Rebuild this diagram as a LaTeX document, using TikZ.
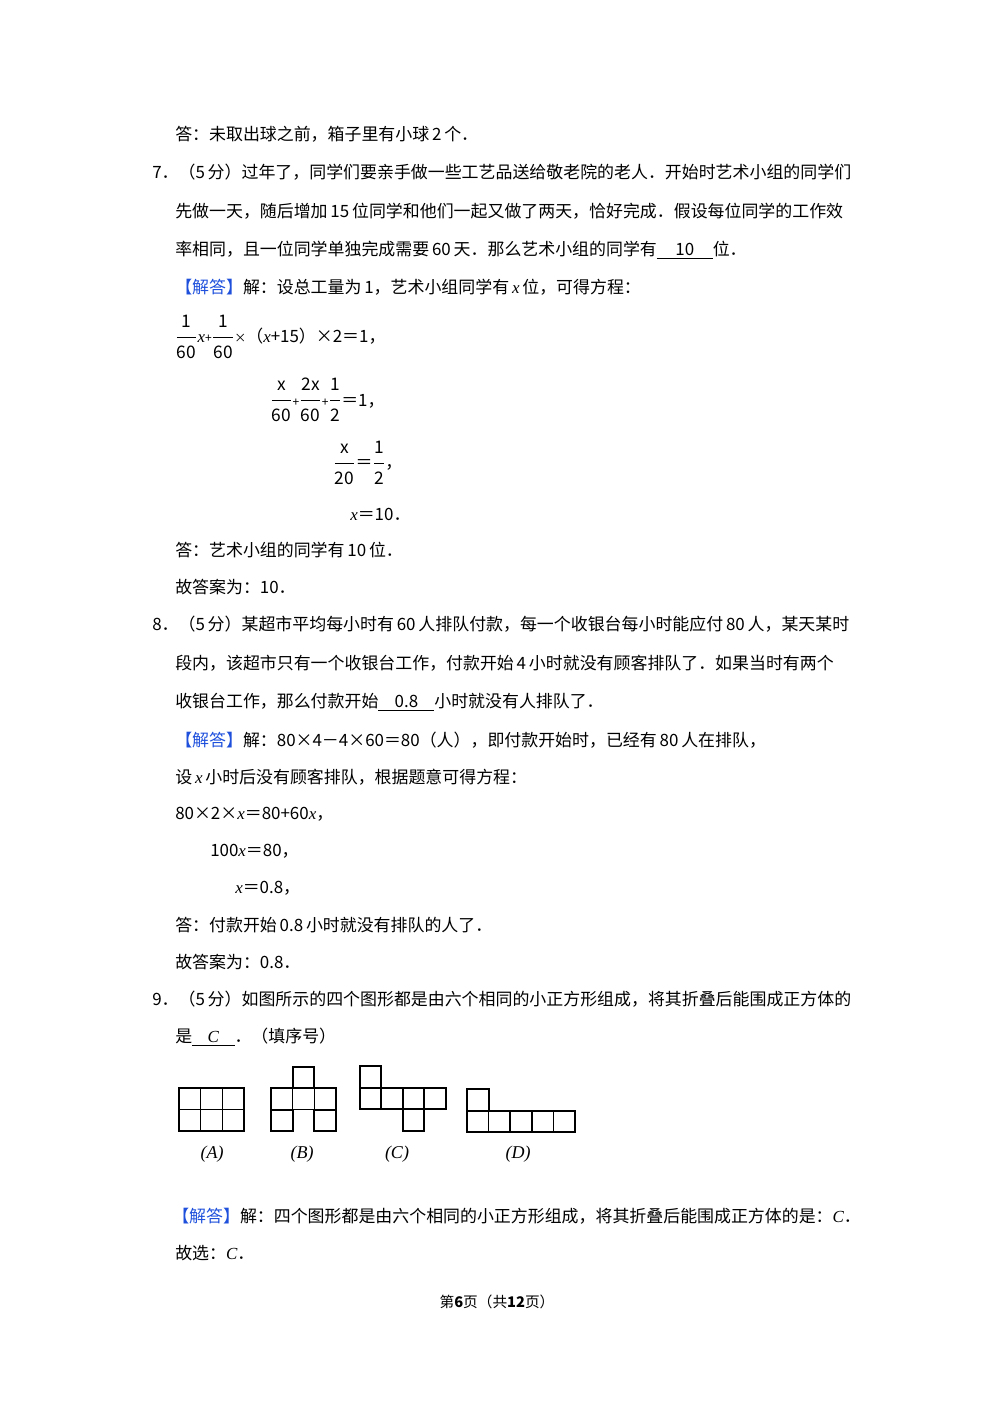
\documentclass[tikz,border=0pt]{standalone}
\usepackage{amsmath}
\usepackage{fontspec}
\setmainfont{Noto Sans CJK SC}
\newfontfamily\ser{Liberation Serif}
\newcommand\vx{{\ser\itshape x}}
\newcommand\ans[2]{\underline{\makebox[#1]{#2}}}
\newcommand\fr[2]{{\fontsize{17pt}{20pt}\selectfont$\dfrac{\text{\fontsize{13pt}{15pt}\selectfont #1}}{\text{\fontsize{13pt}{15pt}\selectfont #2}}$}}
\definecolor{ansblue}{RGB}{30,80,220}
\newcommand\jd{{\color{ansblue}【解答】}}
\begin{document}
\begin{tikzpicture}[x=0.75pt,y=-0.75pt,
  tl/.style={anchor=west,inner sep=0pt,font=\fontsize{12.7pt}{16pt}\selectfont},
  sq/.style={draw,line width=1.1pt}]
\useasboundingbox (0,0) rectangle (1000,1415);
\node[tl] (l1) at (175,134) {答：未取出球之前，箱子里有小球\,2\,个．};
\node[tl] (l2) at (152,172) {7．（5\,分）过年了，同学们要亲手做一些工艺品送给敬老院的老人．开始时艺术小组的同学们};
\node[tl] (l3) at (175,211) {先做一天，随后增加\,15\,位同学和他们一起又做了两天，恰好完成．假设每位同学的工作效};
\node[tl] (l4) at (175,250) {率相同，且一位同学单独完成需要\,60\,天．那么艺术小组的同学有\ans{3.3em}{10}位．};
\node[tl] (l5) at (175,287) {\jd 解：设总工量为\,1，艺术小组同学有\,\vx\,位，可得方程：};
\node[tl] (e1) at (175,337) {\fr{1}{60}\vx{\small+}\fr{1}{60}{\small×}（\vx+15）×2＝1，};
\node[tl] (e2) at (270,400) {\fr{x}{60}{\small+}\fr{2x}{60}{\small+}\fr{1}{2}＝1，};
\node[tl] (e3) at (333,463) {\fr{x}{20}＝\fr{1}{2}，};
\node[tl] (e4) at (350,514) {\vx＝10．};
\node[tl] (l6) at (175,550) {答：艺术小组的同学有\,10\,位．};
\node[tl] (l7) at (175,587) {故答案为：10．};
\node[tl] (l8) at (152,624) {8．（5\,分）某超市平均每小时有\,60\,人排队付款，每一个收银台每小时能应付\,80\,人，某天某时};
\node[tl] (l9) at (175,663) {段内，该超市只有一个收银台工作，付款开始\,4\,小时就没有顾客排队了．如果当时有两个};
\node[tl] (l10) at (175,702) {收银台工作，那么付款开始\ans{3.3em}{0.8}小时就没有人排队了．};
\node[tl] (l11) at (175,740) {\jd 解：80×4－4×60＝80（人），即付款开始时，已经有\,80\,人在排队，};
\node[tl] (l12) at (175,777) {设\,\vx\,小时后没有顾客排队，根据题意可得方程：};
\node[tl] (l13) at (175,814) {80×2×\vx＝80+60\vx，};
\node[tl] (l14) at (210,851) {100\vx＝80，};
\node[tl] (l15) at (235,888) {\vx＝0.8，};
\node[tl] (l16) at (175,925) {答：付款开始\,0.8\,小时就没有排队的人了．};
\node[tl] (l17) at (175,962) {故答案为：0.8．};
\node[tl] (l18) at (152,999) {9．（5\,分）如图所示的四个图形都是由六个相同的小正方形组成，将其折叠后能围成正方体的};
\node[tl] (l19) at (175,1037) {是\ans{2.5em}{\ser\itshape C}．（填序号）};
% A
\foreach \i in {0,1,2} \foreach \j in {0,1}
  \draw[sq] (179+21.67*\i,1088+21.5*\j) rectangle ++(21.67,21.5);
% B
\draw[sq] (293,1067) rectangle (314,1088);
\foreach \i in {0,1,2} \draw[sq] (271+21.67*\i,1088) rectangle ++(21.67,21.5);
\draw[sq] (271,1110) rectangle (293,1131);
\draw[sq] (314,1110) rectangle (336,1131);
% C
\draw[sq] (360,1066) rectangle (381,1088);
\draw[sq] (360,1088) rectangle (381,1109);
\draw[sq] (381,1088) rectangle (403,1109);
\draw[sq] (403,1088) rectangle (424,1109);
\draw[sq] (424,1088) rectangle (446,1109);
\draw[sq] (403,1109) rectangle (424,1131);
% D
\draw[sq] (467,1089) rectangle (489,1111);
\foreach \i in {0,...,4} \draw[sq] (467+21.6*\i,1111) rectangle ++(21.6,21);
\node[font=\ser\fontsize{13.5pt}{16pt}\selectfont\itshape] (ca) at (212,1154) {(A)};
\node[font=\ser\fontsize{13.5pt}{16pt}\selectfont\itshape] (cb) at (302,1154) {(B)};
\node[font=\ser\fontsize{13.5pt}{16pt}\selectfont\itshape] (cc) at (397,1154) {(C)};
\node[font=\ser\fontsize{13.5pt}{16pt}\selectfont\itshape] (cd) at (518,1154) {(D)};
\node[tl] (l20) at (172,1216) {\jd 解：四个图形都是由六个相同的小正方形组成，将其折叠后能围成正方体的是：{\ser\itshape C}．};
\node[tl] (l21) at (175,1253) {故选：{\ser\itshape C}．};
\node[inner sep=0pt,font=\fontsize{11pt}{13pt}\selectfont] (pg) at (497,1302) {第\textbf{6}页（共\textbf{12}页）};
\end{tikzpicture}
\end{document}
